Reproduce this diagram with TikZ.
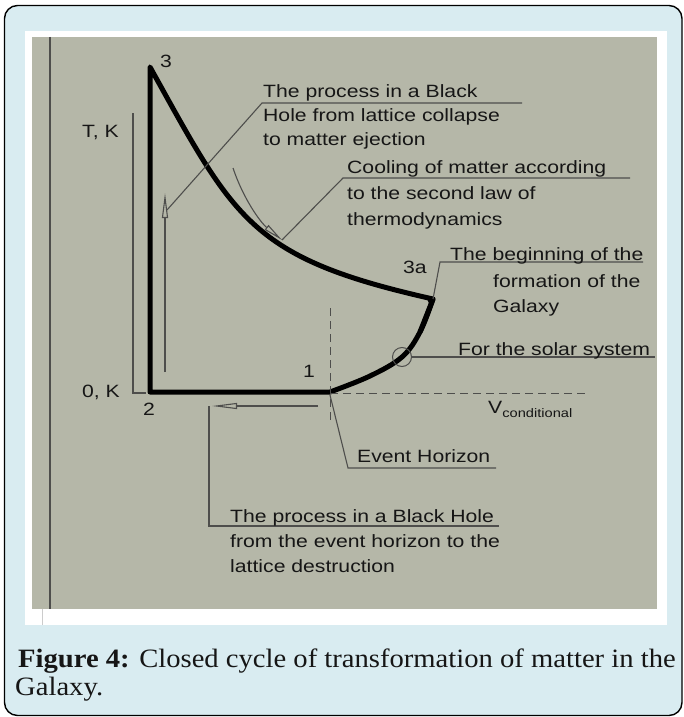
\documentclass[tikz,border=0pt]{standalone}
\usepackage{fontspec}
\setmainfont{Liberation Serif}
\newfontfamily\diagfont[FakeStretch=1.19]{Liberation Sans}
\newfontfamily\capfont[FakeStretch=1.08]{Liberation Serif}
\usetikzlibrary{arrows.meta}
\definecolor{framebg}{RGB}{217,236,241}
\definecolor{panelgray}{RGB}{181,183,168}
\definecolor{leadc}{RGB}{78,78,76}
\definecolor{txt}{RGB}{22,22,22}
\begin{document}
\begin{tikzpicture}[x=1pt,y=-1pt,
  lbl/.style={anchor=base west, inner sep=0, font=\diagfont\fontsize{17.8}{24}\selectfont, text=txt},
  captext/.style={anchor=base west, inner sep=0, font=\capfont\fontsize{26.5}{32}\selectfont, text=txt},
  thinline/.style={draw=leadc, line width=1.1pt},
  thickline/.style={draw=black, line width=5pt, line join=round, line cap=round},
  dashline/.style={draw=leadc, line width=1pt, dash pattern=on 8pt off 5pt},
  spike/.style={-{Triangle[open, length=25pt, width=6pt]}},
  curvetip/.style={-{Triangle[open, length=20pt, width=6pt]}}
]
\useasboundingbox (0,0) rectangle (683,717);
% frame and panels
\draw[fill=framebg, draw=black, line width=1.4pt, rounded corners=13pt] (4.5,5.5) rectangle (682,715.5);
\fill[white] (25,31) rectangle (667,625);
\fill[panelgray] (32,37) rectangle (657,609);
\draw[draw=gray!40, line width=1pt] (42,609) -- (42,625);
\coordinate (lt) at (50,37);
\coordinate (lb) at (50,609);
\draw[thinline] (lt) -- (lb);

% main cycle points
\coordinate (p3) at (150,67);
\coordinate (p2) at (150,392);
\coordinate (p1) at (330,392);
\coordinate (p3a) at (433,299);
\draw[thickline] (p3a) .. controls (250,258) and (235,220) .. (p3)
  -- (p2) -- (p1)
  -- plot[smooth, tension=0.6] coordinates {(330,392) (370,376) (402,357) (420,332) (433,299)};
\draw[thickline, line cap=butt] (420,332) -- (p3a) -- (428,301);

% axis bracket
\coordinate (ax1) at (133,113);
\coordinate (ax2) at (133,393);
\coordinate (ax3) at (146,393);
\draw[thinline] (ax1) -- (ax2) -- (ax3);

% dashed lines
\coordinate (dv1) at (330,308);
\coordinate (dv2) at (330,420);
\coordinate (dh1) at (330,393);
\coordinate (dh2) at (587,393);
\draw[dashline] (dv1) -- (dv2);
\draw[dashline] (dh1) -- (dh2);

% vertical arrow and top leader
\coordinate (va1) at (165,372);
\coordinate (va2) at (165,193);
\draw[thinline, spike] (va1) -- (va2);
\coordinate (l1a) at (167,210);
\coordinate (l1b) at (262,103);
\coordinate (l1c) at (522,103);
\draw[thinline] (l1a) -- (l1b) -- (l1c);

% curved arrow and cooling leader
\coordinate (ca1) at (233,168);
\coordinate (ca2) at (282,240);
\draw[thinline, curvetip] (ca1) .. controls (243,198) and (260,222) .. (ca2);
\coordinate (l2b) at (343,178);
\coordinate (l2c) at (630,178);
\draw[thinline] (ca2) -- (l2b) -- (l2c);

% 3a leader
\coordinate (l3b) at (440,262);
\coordinate (l3c) at (643,262);
\draw[thinline] (p3a) -- (l3b) -- (l3c);

% solar system
\node[draw=leadc, circle, minimum size=19pt, inner sep=0, line width=1pt] (solar) at (402,357) {};
\coordinate (l4c) at (655,357);
\draw[thinline] (solar.east) -- (l4c);

% event horizon leader
\coordinate (l5a) at (330,395);
\coordinate (l5b) at (348,468);
\coordinate (l5c) at (496,468);
\draw[thinline] (l5a) -- (l5b) -- (l5c);

% bottom arrow and leader
\coordinate (ba1) at (318,406);
\coordinate (ba2) at (212,406);
\draw[thinline, spike] (ba1) -- (ba2);
\coordinate (l6a) at (209,406);
\coordinate (l6b) at (209,526);
\coordinate (l6c) at (499,526);
\draw[thinline] (l6a) -- (l6b) -- (l6c);

% labels
\node[lbl] (n3) at (160,67) {3};
\node[lbl] (tk) at (82,137) {T, K};
\node[lbl] (ok) at (82,397) {0, K};
\node[lbl] (n2) at (143,415) {2};
\node[lbl] (n1) at (303,377) {1};
\node[lbl] (n3a) at (403,273) {3a};

\node[lbl] (t1a) at (263,97) {The process in a Black};
\node[lbl] (t1b) at (263,121) {Hole from lattice collapse};
\node[lbl] (t1c) at (263,145) {to matter ejection};

\node[lbl] (t2a) at (347,173) {Cooling of matter according};
\node[lbl] (t2b) at (347,199) {to the second law of};
\node[lbl] (t2c) at (347,225) {thermodynamics};

\node[lbl] (t3a) at (450,260) {The beginning of the};
\node[lbl] (t3b) at (493,287) {formation of the};
\node[lbl] (t3c) at (493,312) {Galaxy};

\node[lbl] (t4) at (458,355) {For the solar system};
\node[lbl] (tv) at (488,413) {V\raisebox{-4.5pt}{\fontsize{12.3}{12}\selectfont conditional}};
\node[lbl] (t5) at (357,462) {Event Horizon};

\node[lbl] (t6a) at (230,522) {The process in a Black Hole};
\node[lbl] (t6b) at (230,547) {from the event horizon to the};
\node[lbl] (t6c) at (230,572) {lattice destruction};

% caption
\node[captext] (c1) at (18,667) {{\bfseries Figure 4:} Closed cycle of transformation of matter in the};
\node[captext] (c2) at (15,695) {Galaxy.};
\end{tikzpicture}
\end{document}
